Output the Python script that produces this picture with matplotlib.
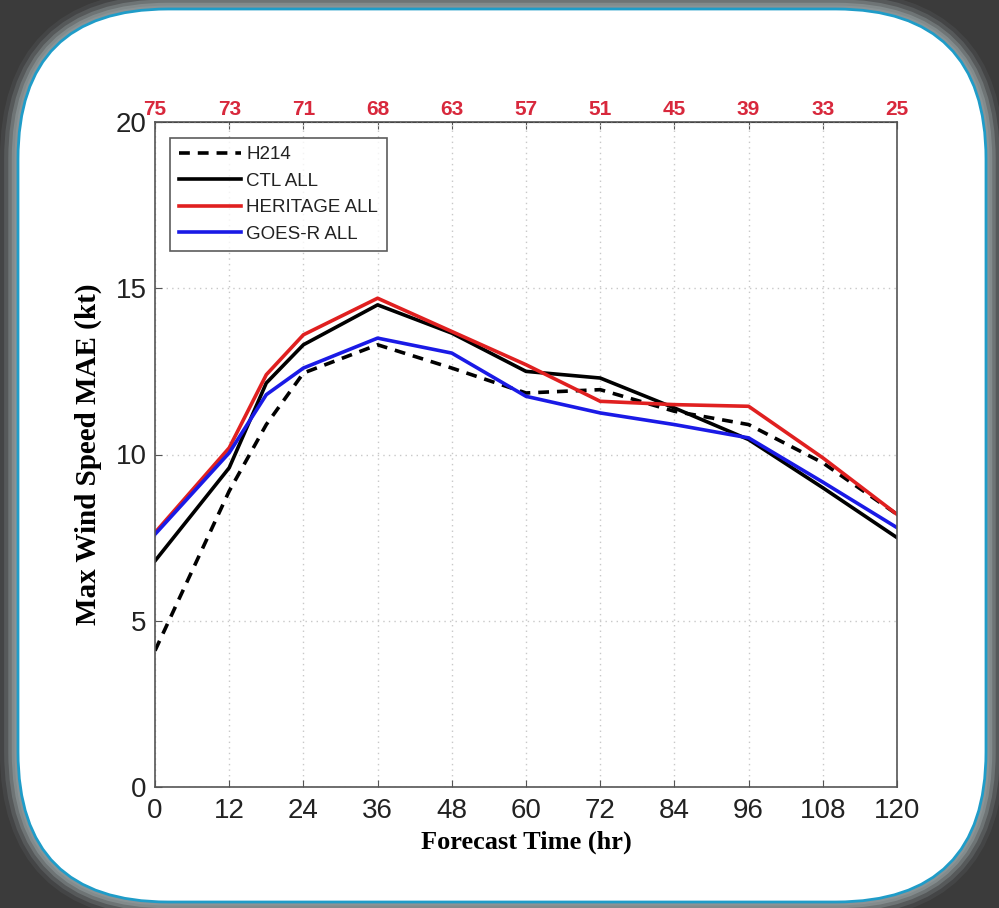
import matplotlib
matplotlib.use("Agg")
import matplotlib.pyplot as plt
from matplotlib.patches import FancyBboxPatch
import matplotlib.font_manager as fm

# ---------------- data ----------------
hours = [0, 12, 18, 24, 36, 48, 60, 72, 84, 96, 108, 120]
h214 = [4.1, 8.9, 10.9, 12.45, 13.3, 12.6, 11.85, 11.95, 11.3, 10.9, 9.75, 8.2]
ctl_all = [6.8, 9.6, 12.15, 13.3, 14.5, 13.65, 12.5, 12.3, 11.4, 10.45, 9.0, 7.5]
heritage_all = [7.65, 10.2, 12.4, 13.6, 14.7, 13.7, 12.7, 11.6, 11.5, 11.45, 9.9, 8.2]
goesr_all = [7.6, 10.05, 11.8, 12.6, 13.5, 13.05, 11.75, 11.25, 10.9, 10.5, 9.17, 7.8]

xticks = [0, 12, 24, 36, 48, 60, 72, 84, 96, 108, 120]
top_counts = ["75", "73", "71", "68", "63", "57", "51", "45", "39", "33", "25"]
yticks = [0, 5, 10, 15, 20]
series_labels = ["H214", "CTL ALL", "HERITAGE ALL", "GOES-R ALL"]

# ---------------- fonts ----------------
avail = {f.name for f in fm.fontManager.ttflist}
sans = ["Liberation Sans Narrow", "Liberation Sans", "DejaVu Sans"]
sans = [f for f in sans if f in avail] or ["DejaVu Sans"]
serif = ["Liberation Serif", "DejaVu Serif"]

W, H = 999, 908
fig = plt.figure(figsize=(W / 100, H / 100), dpi=100)
fig.patch.set_facecolor("#3b3b3b")

# background frame in pixel coordinates
bg = fig.add_axes([0, 0, 1, 1])
bg.set_xlim(0, W)
bg.set_ylim(H, 0)
bg.axis("off")
x0, y0, x1, y1 = 18, 9, 986, 902
r = 150
for lw, a in [(26, 0.12), (20, 0.25), (14, 0.45), (9, 0.7), (5, 0.9)]:
    bg.add_patch(FancyBboxPatch((x0, y0), x1 - x0, y1 - y0,
                                boxstyle=f"round,pad=0,rounding_size={r}",
                                facecolor="none", edgecolor="#8c9597",
                                linewidth=lw, alpha=a))
bg.add_patch(FancyBboxPatch((x0, y0), x1 - x0, y1 - y0,
                            boxstyle=f"round,pad=0,rounding_size={r}",
                            facecolor="white", edgecolor="#1f9cc8", linewidth=2))

# ---------------- main axes ----------------
ax = fig.add_axes([155 / W, 1 - 787 / H, 742 / W, 665 / H])
ax.set_facecolor("white")
ax.plot(hours, h214, color="black", lw=2.6, ls=(0, (3, 2.2)), label=series_labels[0])
ax.plot(hours, ctl_all, color="black", lw=2.6, label=series_labels[1])
ax.plot(hours, heritage_all, color="#e02020", lw=2.6, label=series_labels[2])
ax.plot(hours, goesr_all, color="#1a1ae6", lw=2.6, label=series_labels[3])

ax.set_xlim(0, 120)
ax.set_ylim(0, 20)
ax.set_xticks(xticks)
ax.set_yticks(yticks)
ax.grid(True, color="#c8c8c8", ls=(0, (1, 3)), lw=1.0)
for s in ax.spines.values():
    s.set_color("#555555")
    s.set_linewidth(1.2)
ax.tick_params(direction="in", length=5, color="#555555", labelsize=20, pad=6)
ax.tick_params(axis="x", pad=8)
for lab in ax.get_xticklabels() + ax.get_yticklabels():
    lab.set_family(sans)
    lab.set_color("#222222")

ax.set_xlabel("Forecast Time (hr)", family=serif, fontweight="bold", fontsize=19,
              labelpad=5)
ax.set_ylabel("Max Wind Speed MAE (kt)", family=serif, fontweight="bold", fontsize=21,
              labelpad=10)

top = ax.secondary_xaxis("top")
top.set_xticks(xticks)
top.set_xticklabels(top_counts)
top.tick_params(direction="in", length=5, color="#555555", labelsize=15, pad=2)
for lab in top.get_xticklabels():
    lab.set_family(sans)
    lab.set_color("#d8283c")
    lab.set_fontweight("bold")

leg = ax.legend(loc="upper left", bbox_to_anchor=(0.013, 0.985),
                prop={"family": sans, "size": 13.5}, frameon=True, fancybox=False,
                handlelength=3.3, handletextpad=0.3, borderpad=0.45, labelspacing=0.5,
                borderaxespad=0.3)
leg.get_frame().set_edgecolor("#333333")
leg.get_frame().set_linewidth(1.2)
for t in leg.get_texts():
    t.set_color("#222222")

fig.savefig("out.png", dpi=100, facecolor=fig.get_facecolor())
